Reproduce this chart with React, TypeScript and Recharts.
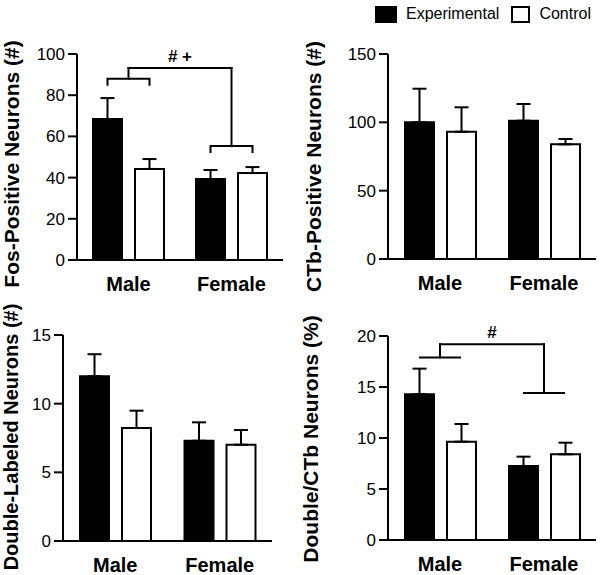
import { ComposedChart, Bar, XAxis, YAxis, ErrorBar, ReferenceLine, ReferenceDot, Label } from "recharts";

const groups = ["Male", "Female"];
const seriesNames = ["Experimental", "Control"];
const seriesColors = ["#000000", "#ffffff"];

// Fos-positive neurons (#)
const fosExp = [68.4, 39.3];
const fosExpErr = [10.2, 4.4];
const fosCtrl = [44.2, 42.2];
const fosCtrlErr = [4.8, 2.9];
const fosTicks = [0, 20, 40, 60, 80, 100];

// CTb-positive neurons (#)
const ctbExp = [100, 101.2];
const ctbExpErr = [24.6, 12.2];
const ctbCtrl = [93.1, 83.9];
const ctbCtrlErr = [17.9, 3.9];
const ctbTicks = [0, 50, 100, 150];

// Double-labeled neurons (#)
const dblExp = [12.0, 7.3];
const dblExpErr = [1.6, 1.34];
const dblCtrl = [8.23, 7.01];
const dblCtrlErr = [1.26, 1.07];
const dblTicks = [0, 5, 10, 15];

// Double/CTb neurons (%)
const pctExp = [14.3, 7.25];
const pctExpErr = [2.5, 0.92];
const pctCtrl = [9.64, 8.4];
const pctCtrlErr = [1.73, 1.14];
const pctTicks = [0, 5, 10, 15, 20];

// significance brackets: y of male end, female end, top bar
const fosBracket = { male: 88, female: 55.3, top: 93.2, text: "# +", drop: 6 };
const pctBracket = { male: 17.9, female: 14.4, top: 19.2, text: "#", drop: 0 };

const panels = [
  { title: "Fos-Positive Neurons (#)", exp: fosExp, expErr: fosExpErr, ctrl: fosCtrl, ctrlErr: fosCtrlErr, ticks: fosTicks, bracket: fosBracket,
    x: 0, y: 0, h: 300, top: 54, right: 17, yw: 77, xh: 40, labelX: 19, labelShift: 7, labelSize: 21 },
  { title: "CTb-Positive Neurons (#)", exp: ctbExp, expErr: ctbExpErr, ctrl: ctbCtrl, ctrlErr: ctbCtrlErr, ticks: ctbTicks, bracket: null,
    x: 300, y: 0, h: 300, top: 54, right: 4, yw: 88, xh: 41, labelX: 21, labelShift: 10, labelSize: 21 },
  { title: "Double-Labeled Neurons (#)", exp: dblExp, expErr: dblExpErr, ctrl: dblCtrl, ctrlErr: dblCtrlErr, ticks: dblTicks, bracket: null,
    x: 0, y: 300, h: 275, top: 35, right: 28, yw: 63, xh: 34, labelX: 18, labelShift: -1, labelSize: 20 },
  { title: "Double/CTb Neurons (%)", exp: pctExp, expErr: pctExpErr, ctrl: pctCtrl, ctrlErr: pctCtrlErr, ticks: pctTicks, bracket: pctBracket,
    x: 300, y: 300, h: 275, top: 36, right: 4, yw: 88, xh: 35, labelX: 18, labelShift: 1, labelSize: 21 },
];

const axisStyle = { stroke: "#000", strokeWidth: 2 };

function bracketEnd(drop: number) {
  return (props: any) => {
    const { cx, cy } = props;
    const d = drop
      ? `M${cx - 21},${cy + drop} V${cy} H${cx + 21} V${cy + drop}`
      : `M${cx - 20},${cy} H${cx + 20}`;
    return <path d={d} fill="none" stroke="#000" strokeWidth={2} strokeLinecap="square" />;
  };
}

function Panel({ p }: { p: any }) {
  const rows = groups.map((g, i) => ({
    group: g,
    exp: p.exp[i],
    expErr: [0, p.expErr[i]],
    ctrl: p.ctrl[i],
    ctrlErr: [0, p.ctrlErr[i]],
  }));
  const b = p.bracket;
  const maxY = p.ticks[p.ticks.length - 1];

  return (
    <div style={{ position: "absolute", left: p.x, top: p.y }}>
      <ComposedChart width={300} height={p.h} data={rows} barSize={29} barGap={13}
        margin={{ top: p.top, right: p.right, bottom: 0, left: 0 }}>
        <XAxis dataKey="group" interval={0} height={p.xh} axisLine={axisStyle} tickLine={false}
          tickSize={8} tickMargin={9} tick={{ fill: "#000", fontSize: 20, fontWeight: 700 }} />
        <YAxis domain={[0, maxY]} ticks={p.ticks} width={p.yw} axisLine={axisStyle} tickLine={axisStyle}
          tickSize={9} tickMargin={3} tick={{ fill: "#000", fontSize: 17 }}>
          <Label
            content={(lp: any) => {
              const vb = lp.viewBox || { x: 0, y: p.top, height: p.h - p.top - p.xh };
              const x = vb.x + p.labelX;
              const y = vb.y + vb.height / 2 + p.labelShift;
              return (
                <text x={x} y={y} transform={`rotate(-90 ${x} ${y})`} textAnchor="middle"
                  fontSize={p.labelSize} fontWeight={700} fill="#000">{p.title}</text>
              );
            }}
          />
        </YAxis>
        <Bar dataKey="exp" name={seriesNames[0]} fill={seriesColors[0]} stroke="#000" strokeWidth={2} isAnimationActive={false}>
          <ErrorBar dataKey="expErr" width={7} stroke="#000" strokeWidth={2} direction="y" />
        </Bar>
        <Bar dataKey="ctrl" name={seriesNames[1]} fill={seriesColors[1]} stroke="#000" strokeWidth={2} isAnimationActive={false}>
          <ErrorBar dataKey="ctrlErr" width={7} stroke="#000" strokeWidth={2} direction="y" />
        </Bar>
        {b && (
          <ReferenceDot x={groups[0]} y={b.male} ifOverflow="visible" shape={bracketEnd(b.drop)} />
        )}
        {b && (
          <ReferenceDot x={groups[1]} y={b.female} ifOverflow="visible" shape={bracketEnd(b.drop)} />
        )}
        {b && (
          <ReferenceLine segment={[{ x: groups[0], y: b.male }, { x: groups[0], y: b.top }]} position="middle"
            stroke="#000" strokeWidth={2} strokeLinecap="square" ifOverflow="visible" />
        )}
        {b && (
          <ReferenceLine segment={[{ x: groups[0], y: b.top }, { x: groups[1], y: b.top }]} position="middle"
            stroke="#000" strokeWidth={2} strokeLinecap="square" ifOverflow="visible"
            label={{ value: b.text, position: "top", offset: 6, fill: "#000", fontSize: 17, fontWeight: 700 }} />
        )}
        {b && (
          <ReferenceLine segment={[{ x: groups[1], y: b.top }, { x: groups[1], y: b.female }]} position="middle"
            stroke="#000" strokeWidth={2} strokeLinecap="square" ifOverflow="visible" />
        )}
      </ComposedChart>
    </div>
  );
}

export default function App() {
  return (
    <div style={{ position: "absolute", left: 0, top: 0, width: 600, height: 575, background: "#fff",
      fontFamily: "'Liberation Sans', Arial, sans-serif" }}>
      <div style={{ position: "absolute", left: 375, top: 5, display: "flex", alignItems: "center", fontSize: 16, color: "#000" }}>
        {seriesNames.map((name, i) => (
          <div key={name} style={{ display: "flex", alignItems: "center", marginRight: i === 0 ? 12 : 0 }}>
            <div style={{ width: i === 0 ? 22 : 19, height: 17, boxSizing: "border-box", background: seriesColors[i],
              border: "2px solid #000", marginRight: 9 }} />
            <span>{name}</span>
          </div>
        ))}
      </div>
      {panels.map((p) => (
        <Panel key={p.title} p={p} />
      ))}
    </div>
  );
}
